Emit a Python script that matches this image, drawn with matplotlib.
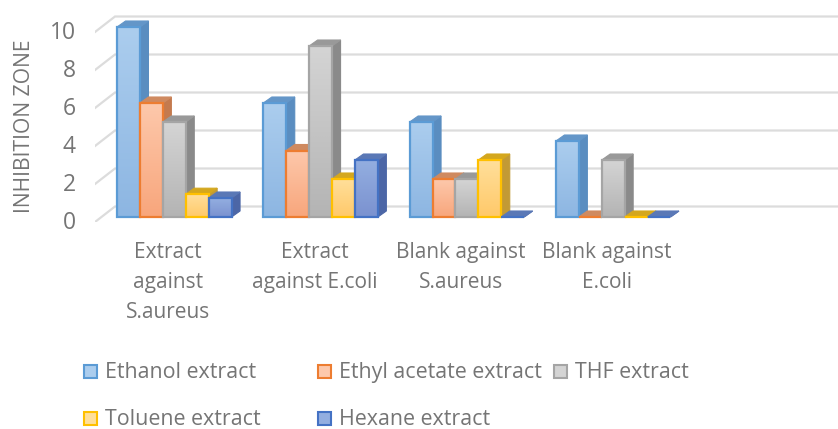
import numpy as np
import matplotlib
matplotlib.use("Agg")
import matplotlib.pyplot as plt
from matplotlib.patches import Polygon, Rectangle
from matplotlib.colors import LinearSegmentedColormap
from matplotlib.transforms import ScaledTranslation

plt.rcParams['font.family'] = ['Open Sans', 'DejaVu Sans']

# ---- data ----
categories = ["Extract\nagainst\nS.aureus", "Extract\nagainst E.coli",
              "Blank against\nS.aureus", "Blank against\nE.coli"]
series_names = ["Ethanol extract", "Ethyl acetate extract", "THF extract",
                "Toluene extract", "Hexane extract"]
ethanol = [10, 6, 5, 4]
ethyl_acetate = [6, 3.5, 2, 0]
thf = [5, 9, 2, 3]
toluene = [1.2, 2, 3, 0]
hexane = [1, 3, 0, 0]
series_values = [ethanol, ethyl_acetate, thf, toluene, hexane]
y_ticks = [0, 2, 4, 6, 8, 10]
y_label = "INHIBITION ZONE"

# ---- styles ----
W, H = 838, 429
grad_top = ["#abcdee", "#fdc8ab", "#d4d4d4", "#ffdf9a", "#93aee0"]
grad_bot = ["#8db6e2", "#f8a67c", "#b4b4b4", "#ffc96a", "#7b92d0"]
edges = ["#5b9bd5", "#ed7d31", "#a5a5a5", "#ffc000", "#4472c4"]
sides = ["#5a8dc0", "#c47a4e", "#8a8a8a", "#c29a35", "#4c66a6"]
tops = ["#6496c8", "#cf8a60", "#999999", "#d4a71e", "#5a78b6"]
text_c = "#757575"
grid_c = "#dcdcdc"

# pixel geometry
AX_L, AX_R, AX_B, AX_T = 95, 838, 222, 10
PX_X, PX_Y = 146.3, 19.0     # pixels per category, per value unit
G0, Y0 = 174.3, 217.0        # px of first group centre and of value 0
BAR_W = 22.9 / PX_X
DX, DY = 8.5 / PX_X, 6.0 / PX_Y
WALL_DX, WALL_DY = 20 / PX_X, 15.5 / PX_Y

fig = plt.figure(figsize=(W / 100, H / 100), dpi=100)
ax = fig.add_axes([AX_L / W, 1 - AX_B / H, (AX_R - AX_L) / W, (AX_B - AX_T) / H])
ax.patch.set_visible(False)
for s in ax.spines.values():
    s.set_visible(False)

x0 = (AX_L - G0) / PX_X
x1 = (AX_R - G0) / PX_X
y0 = (Y0 - AX_B) / PX_Y
y1 = (Y0 - AX_T) / PX_Y

# back wall grid and the diagonals
for v in y_ticks:
    ax.plot([x0, x0 + WALL_DX, x1], [v + y0 + 0.0, v + y0 + WALL_DY, v + y0 + WALL_DY],
            color=grid_c, lw=1.6, zorder=1, solid_joinstyle="miter")

# bars
z = 2
n = len(series_values)
for g in range(len(categories)):
    for i, vals in enumerate(series_values):
        v = vals[g]
        left = g + (i - n / 2) * BAR_W
        right = left + BAR_W
        ax.add_patch(Polygon([(right, 0), (right + DX, DY), (right + DX, v + DY), (right, v)],
                             facecolor=sides[i], edgecolor=sides[i], lw=0.8, zorder=z))
        ax.add_patch(Polygon([(left, v), (left + DX, v + DY), (right + DX, v + DY), (right, v)],
                             facecolor=tops[i], edgecolor=tops[i], lw=0.8, zorder=z + 0.1))
        if v > 0:
            cmap = LinearSegmentedColormap.from_list("g", [grad_bot[i], grad_top[i]])
            ax.imshow(np.linspace(0, 1, 64).reshape(-1, 1), cmap=cmap, origin="lower",
                      extent=[left, right, 0, v], aspect="auto", zorder=z + 0.2,
                      interpolation="bilinear")
        ax.bar(left, v, width=BAR_W, align="edge", facecolor="none",
               edgecolor=edges[i], lw=1.6, zorder=z + 0.3)
        z += 1

ax.set_xlim(x0, x1)
ax.set_ylim(y0, y1)

# axis text
ax.set_yticks(y_ticks)
ax.set_yticklabels([str(v) for v in y_ticks], fontsize=16.5, color=text_c)
ax.tick_params(axis="y", length=0, pad=14)
off = ScaledTranslation(0, -3 / 100, fig.dpi_scale_trans)
for lab in ax.get_yticklabels():
    lab.set_transform(lab.get_transform() + off)

ax.set_xticks(np.arange(len(categories)) - 6.0 / PX_X)
ax.set_xticklabels(categories, fontsize=15, color=text_c, linespacing=1.56)
ax.tick_params(axis="x", length=0, pad=14.5)

fig.text(24 / W, 1 - 126 / H, y_label, rotation=90, ha="center", va="center",
         fontsize=15.2, color=text_c)

# legend, laid out as in the reference
leg_x = [84, 318, 554, 84, 318]
leg_y = [371, 371, 371, 418, 418]
for i, name in enumerate(series_names):
    fig.add_artist(Rectangle(((leg_x[i]) / W, 1 - (leg_y[i] + 7) / H), 13 / W, 13 / H,
                             transform=fig.transFigure, facecolor=grad_top[i],
                             edgecolor=edges[i], lw=1.5))
    fig.text((leg_x[i] + 21) / W, 1 - (leg_y[i] + 1.5) / H, name, ha="left", va="center",
             fontsize=15.4, color=text_c)

fig.savefig("out.png", dpi=100)
